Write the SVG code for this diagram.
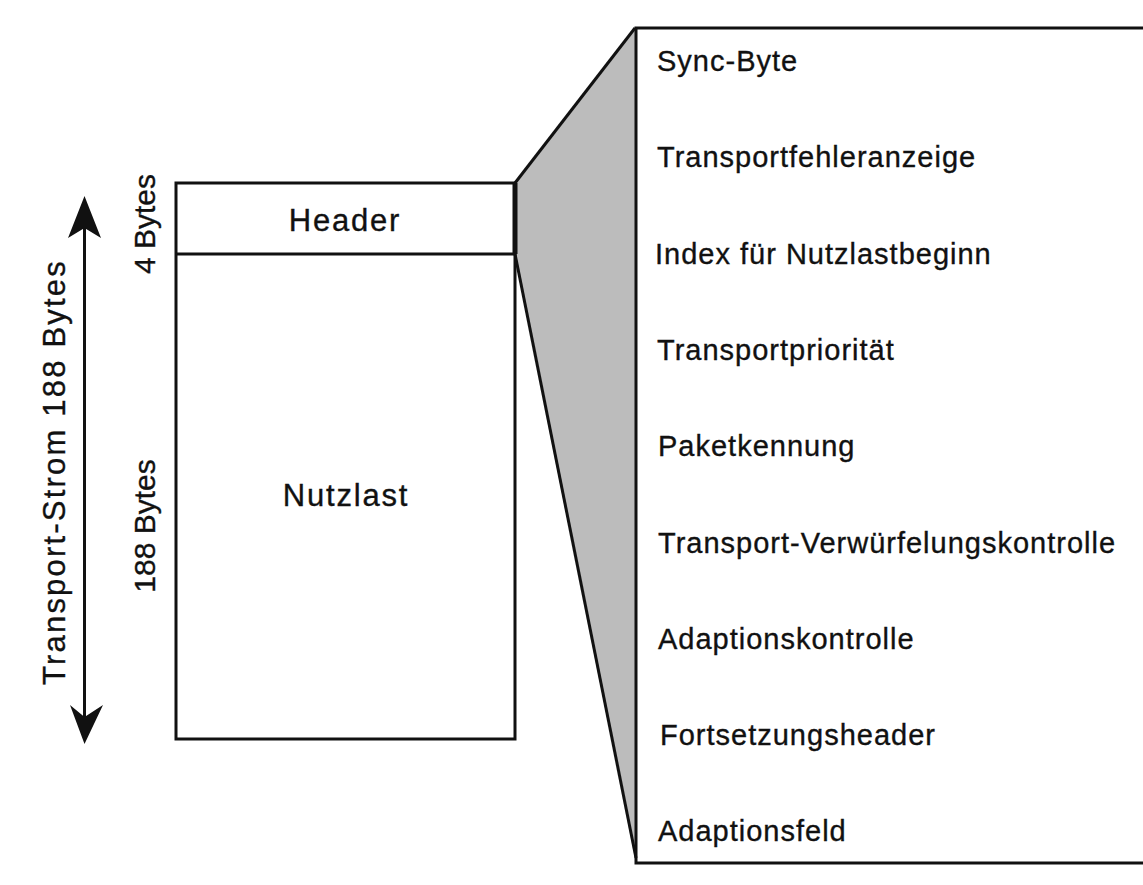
<svg xmlns="http://www.w3.org/2000/svg" width="1143" height="885" viewBox="0 0 1143 885">
<style>
.ln{stroke:#111;stroke-width:3;fill:none}
.t{font-family:"Liberation Sans",Arial,sans-serif;fill:#111;stroke:#111;stroke-width:0.35}
.f{font-size:29px;letter-spacing:1px}
.b{font-size:31px;letter-spacing:1.8px}
.r{font-size:30px}
</style>
<rect width="1143" height="885" fill="#fff"/>
<g id="connectors">
<polygon points="515,183 635,28 636,858 515,254" fill="#bcbcbc" stroke="none"/>
<line class="ln" x1="515" y1="183" x2="635" y2="28"/>
<line class="ln" x1="515" y1="254" x2="636" y2="858"/>
<line class="ln" x1="84.5" y1="215" x2="84.5" y2="725"/>
<polygon points="84.5,196 101,238 84.5,228 68,238" fill="#111"/>
<polygon points="84.5,744 103,705 84.5,717 70,705" fill="#111"/>
</g>
<g id="packet">
<rect class="ln" x="176" y="183" width="339" height="556"/>
<line class="ln" x1="515" y1="183" x2="515" y2="254" style="stroke-width:5"/>
<line class="ln" x1="176" y1="254" x2="515" y2="254"/>
<text class="t b" x="345" y="231" text-anchor="middle">Header</text>
<text class="t b" x="346" y="506" text-anchor="middle">Nutzlast</text>
</g>
<g id="labels-left">
<text class="t r" transform="translate(155,224) rotate(-90)" text-anchor="middle">4 Bytes</text>
<text class="t r" transform="translate(155,526) rotate(-90)" text-anchor="middle">188 Bytes</text>
<text class="t r" transform="translate(65,472) rotate(-90)" text-anchor="middle" style="font-size:31px;letter-spacing:2.2px">Transport-Strom 188 Bytes</text>
</g>
<g id="header-fields">
<polyline class="ln" points="1143,28 636,28 636,863 1143,863"/>
<text class="t f" x="657" y="71">Sync-Byte</text>
<text class="t f" x="657" y="167">Transportfehleranzeige</text>
<text class="t f" x="655" y="264">Index für Nutzlastbeginn</text>
<text class="t f" x="657" y="360">Transportpriorität</text>
<text class="t f" x="658" y="456">Paketkennung</text>
<text class="t f" x="658" y="553">Transport-Verwürfelungskontrolle</text>
<text class="t f" x="658" y="649">Adaptionskontrolle</text>
<text class="t f" x="660" y="745">Fortsetzungsheader</text>
<text class="t f" x="658" y="841">Adaptionsfeld</text>
</g>
</svg>
